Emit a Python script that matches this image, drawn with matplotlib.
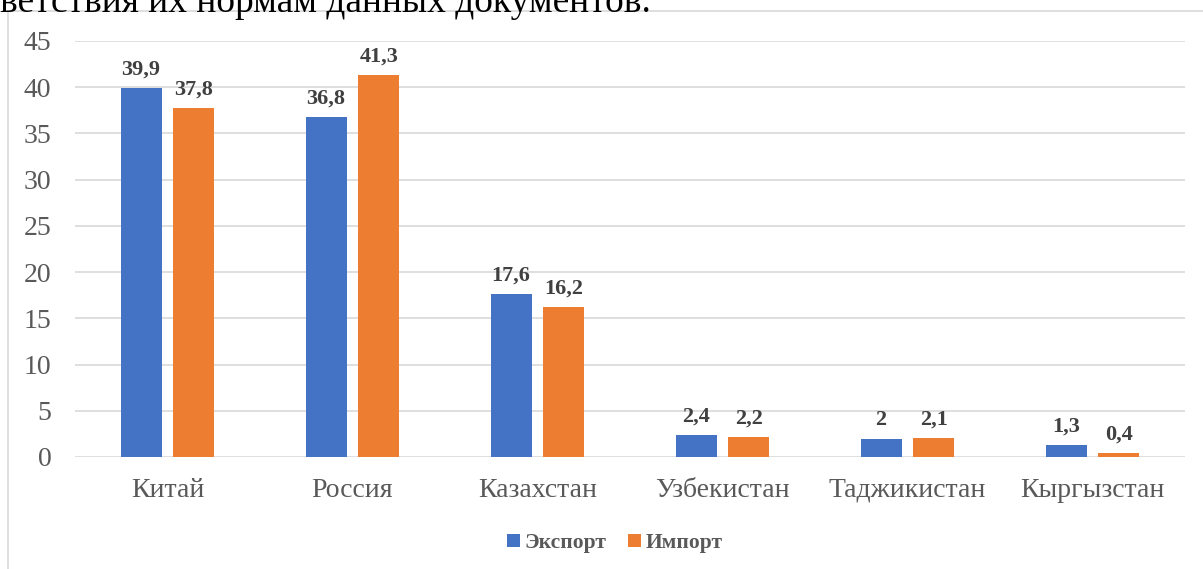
import matplotlib.pyplot as plt
import numpy as np
from matplotlib.patches import Rectangle

countries = ["Китай", "Россия", "Казахстан", "Узбекистан", "Таджикистан", "Кыргызстан"]
export_vals = [39.9, 36.8, 17.6, 2.4, 2.0, 1.3]
import_vals = [37.8, 41.3, 16.2, 2.2, 2.1, 0.4]
export_labels = ["39,9", "36,8", "17,6", "2,4", "2", "1,3"]
import_labels = ["37,8", "41,3", "16,2", "2,2", "2,1", "0,4"]

plt.rcParams['font.family'] = ['Liberation Serif', 'DejaVu Serif']

W, H = 1203, 569
fig = plt.figure(figsize=(W / 100, H / 100), dpi=100)

# chart frame (cut by the page edge)
fig.patches.append(Rectangle((8 / W, -0.1), 1.2, 1 - 11 / H + 0.1, transform=fig.transFigure,
                             fill=False, edgecolor="#d9d9d9", linewidth=1.2))
# text of the page above the chart, cut at the top
fig.text(0.0, 1 - 12 / H, "ветствия их нормам данных документов.", fontsize=27,
         color="black", ha="left", va="baseline")

ax = fig.add_axes([75 / W, 1 - 457 / H, 1110 / W, 416 / H])
x = np.arange(len(countries))
w = 0.222
off = 0.143
b1 = ax.bar(x - off, export_vals, w, color="#4472c4", label="Экспорт", zorder=3)
b2 = ax.bar(x + off, import_vals, w, color="#ed7d31", label="Импорт", zorder=3)

for bars, labs in ((b1, export_labels), (b2, import_labels)):
    for b, t in zip(bars, labs):
        ax.annotate(t, (b.get_x() + b.get_width() / 2, b.get_height()), xytext=(0, 6),
                    textcoords="offset points", ha="center", va="bottom",
                    fontsize=16, fontweight="bold", color="#404040")

ax.set_xlim(-0.5, len(countries) - 0.5)
ax.set_ylim(0, 45)
ax.set_yticks(range(0, 46, 5))
ax.set_xticks(x)
ax.set_xticklabels(countries)
ax.yaxis.grid(True, color="#d9d9d9", linewidth=1.2, zorder=0)
for s in ax.spines.values():
    s.set_visible(False)
ax.tick_params(length=0, labelsize=20, labelcolor="#595959")
ax.tick_params(axis="y", pad=17)
ax.tick_params(axis="x", pad=15)

fig.legend(loc="center", bbox_to_anchor=(615 / W, 1 - 543 / H), ncol=2, frameon=False,
           prop={"weight": "bold", "size": 15.5}, labelcolor="#595959",
           handlelength=0.6, handleheight=0.6, handletextpad=0.2, columnspacing=1.0)

fig.savefig("out.png", dpi=100)
